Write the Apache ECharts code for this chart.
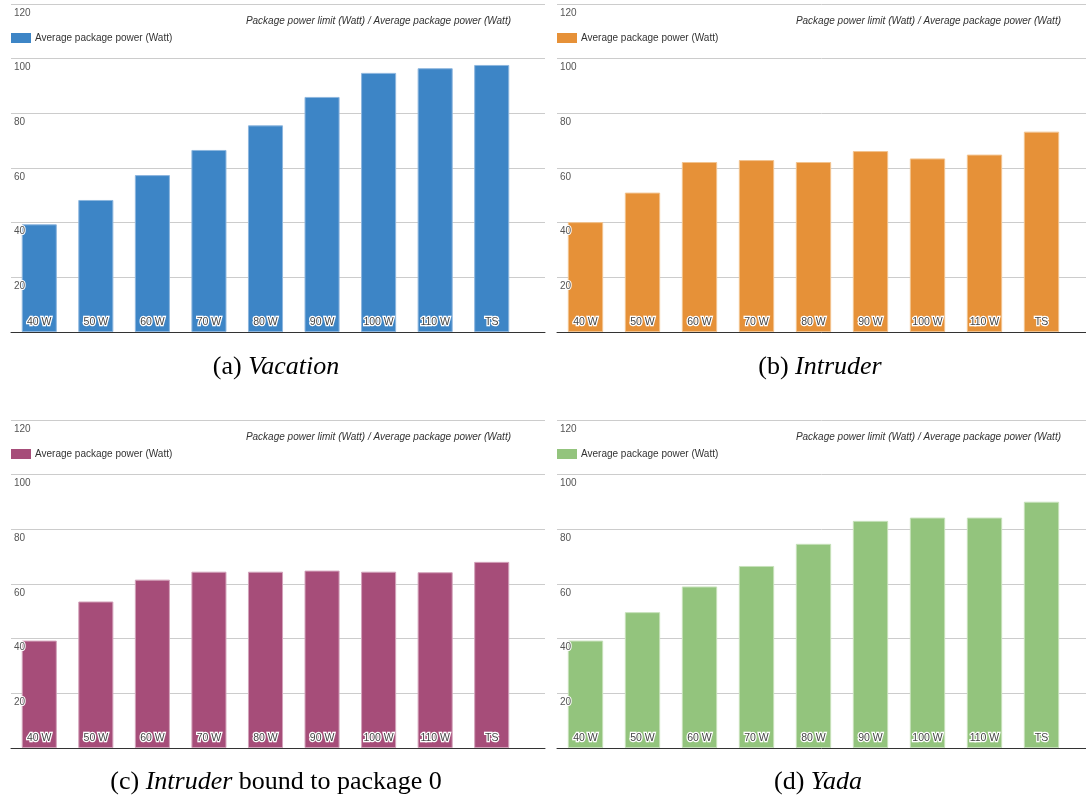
<!DOCTYPE html>
<html>
<head>
<meta charset="utf-8">
<title>Average package power by power limit</title>
<script src="https://cdn.jsdelivr.net/npm/echarts@6/dist/echarts.min.js"></script>
<style>
  html, body { margin: 0; padding: 0; background: #ffffff; }
  #chart { width: 1086px; height: 802px; }
</style>
</head>
<body>
<div id="chart"></div>
<script>
// Package power limits (x categories)
const categories = ['40 W', '50 W', '60 W', '70 W', '80 W', '90 W', '100 W', '110 W', 'TS'];

// Average package power (Watt) per benchmark
const vacation     = [39.4, 48.3, 57.4, 66.6, 75.6, 86.0, 94.8, 96.5, 97.7];
const intruder     = [40.2, 51.0, 62.2, 62.9, 62.2, 66.2, 63.5, 64.9, 73.3];
const intruderPkg0 = [39.3, 53.6, 61.6, 64.5, 64.5, 64.9, 64.5, 64.3, 68.1];
const yada         = [39.3, 49.7, 59.1, 66.6, 74.7, 83.1, 84.3, 84.3, 90.1];

// Value axis ticks
const yTicks = [0, 20, 40, 60, 80, 100, 120];

const seriesLabel = 'Average package power (Watt)';
const axisTitle = 'Package power limit (Watt) / Average package power (Watt)';

const SANS = '"Liberation Sans", Arial, sans-serif';
const SERIF = '"Liberation Serif", "DejaVu Serif", serif';

// One entry per sub-figure: data, colour, placement and caption pieces
const panels = [
  { id: 'vacation', data: vacation, color: '#3d85c6', edge: '#8db6de',
    left: 11, barRight: 520, lineRight: 545, top: 4,
    caption: { pre: '(a) ', it: 'Vacation', post: '' }, cx: 276, cy: 367 },
  { id: 'intruder', data: intruder, color: '#e69138', edge: '#f2c38f',
    left: 557, barRight: 1070, lineRight: 1086, top: 4,
    caption: { pre: '(b) ', it: 'Intruder', post: '' }, cx: 820, cy: 367 },
  { id: 'intruderPkg0', data: intruderPkg0, color: '#a64d79', edge: '#d3a2ba',
    left: 11, barRight: 520, lineRight: 545, top: 420,
    caption: { pre: '(c) ', it: 'Intruder', post: ' bound to package 0' }, cx: 276, cy: 782 },
  { id: 'yada', data: yada, color: '#93c47d', edge: '#c6e1ba',
    left: 557, barRight: 1070, lineRight: 1086, top: 420,
    caption: { pre: '(d) ', it: 'Yada', post: '' }, cx: 818, cy: 782 }
];

const PLOT_H = 328;
const yMin = yTicks[0], yMax = yTicks[yTicks.length - 1], yStep = yTicks[1] - yTicks[0];

const option = {
  animation: false,
  backgroundColor: '#ffffff',
  textStyle: { fontFamily: SANS },
  grid: [], xAxis: [], yAxis: [], series: [], legend: [], title: [], graphic: []
};

panels.forEach(function (p) {
  // frame grid: gridlines, baseline and tick labels across the full panel width
  const frameGrid = option.grid.length;
  option.grid.push({ left: p.left, top: p.top, width: p.lineRight - p.left, height: PLOT_H });
  // bar grid: the category band area
  const barGrid = option.grid.length;
  option.grid.push({ left: p.left, top: p.top, width: p.barRight - p.left, height: PLOT_H });

  // frame x axis only supplies the dark baseline
  option.xAxis.push({
    type: 'value', gridIndex: frameGrid, min: 0, max: 1, position: 'bottom',
    axisLine: { show: true, lineStyle: { color: '#333333', width: 1 } },
    axisTick: { show: false }, axisLabel: { show: false }, splitLine: { show: false }
  });
  // frame y axis with light horizontal gridlines (beneath the bars)
  option.yAxis.push({
    type: 'value', gridIndex: frameGrid, position: 'left', min: yMin, max: yMax, interval: yStep,
    axisLine: { show: false }, axisTick: { show: false }, axisLabel: { show: false },
    splitLine: { show: true, lineStyle: { color: '#cccccc', width: 1 } }, z: 0
  });
  // tick labels drawn inside the plot, above the bars
  option.yAxis.push({
    type: 'value', gridIndex: frameGrid, position: 'left', offset: 0,
    min: yMin, max: yMax, interval: yStep,
    axisLine: { show: false }, axisTick: { show: false }, splitLine: { show: false },
    z: 10,
    axisLabel: {
      inside: true, margin: 3, fontSize: 10, color: '#555555', fontFamily: SANS,
      verticalAlign: 'top', lineHeight: 12, padding: [3, 0, 0, 0],
      textBorderColor: '#ffffff', textBorderWidth: 2,
      formatter: function (v) { return v === 0 ? '' : String(v); }
    }
  });

  // category axis for the bars (labels are drawn inside the bars)
  const barX = option.xAxis.length;
  option.xAxis.push({
    type: 'category', gridIndex: barGrid, data: categories, position: 'bottom',
    axisLine: { show: false }, axisTick: { show: false }, axisLabel: { show: false },
    splitLine: { show: false }
  });
  const barY = option.yAxis.length;
  option.yAxis.push({
    type: 'value', gridIndex: barGrid, position: 'left', min: yMin, max: yMax, interval: yStep, show: false
  });

  option.series.push({
    name: p.id,
    type: 'bar',
    xAxisIndex: barX, yAxisIndex: barY,
    data: p.data,
    barWidth: '62%',
    itemStyle: { color: p.color, borderColor: p.edge, borderWidth: 1 },
    z: 2,
    label: {
      show: true, position: 'insideBottom', distance: 4,
      formatter: '{b}', fontSize: 10.5, fontFamily: SANS,
      color: '#444444', textBorderColor: '#ffffff', textBorderWidth: 2.5
    }
  });

  option.legend.push({
    data: [p.id], left: p.left, top: p.top + 29, padding: 0,
    icon: 'rect', itemWidth: 20, itemHeight: 10, itemGap: 10,
    selectedMode: false,
    itemStyle: { borderWidth: 0 },
    formatter: function () { return seriesLabel; },
    textStyle: { fontSize: 10, color: '#333333', fontFamily: SANS, padding: [0, 0, 0, -1] }
  });

  option.title.push({
    text: axisTitle, right: 1086 - (p.barRight - 9), top: p.top + 12, padding: 0,
    textStyle: { fontSize: 10, fontStyle: 'italic', fontWeight: 'normal', color: '#333333', fontFamily: SANS }
  });

  option.graphic.push({
    type: 'text', x: p.cx, y: p.cy, silent: true,
    style: {
      text: '{r|' + p.caption.pre + '}{i|' + p.caption.it + '}' + (p.caption.post ? '{r|' + p.caption.post + '}' : ''),
      align: 'center', verticalAlign: 'middle',
      rich: {
        r: { fontFamily: SERIF, fontSize: 26, color: '#111111' },
        i: { fontFamily: SERIF, fontSize: 26, fontStyle: 'italic', color: '#111111' }
      }
    }
  });
});

const chart = echarts.init(document.getElementById('chart'), null, { renderer: 'canvas' });
chart.setOption(option);
</script>
</body>
</html>
